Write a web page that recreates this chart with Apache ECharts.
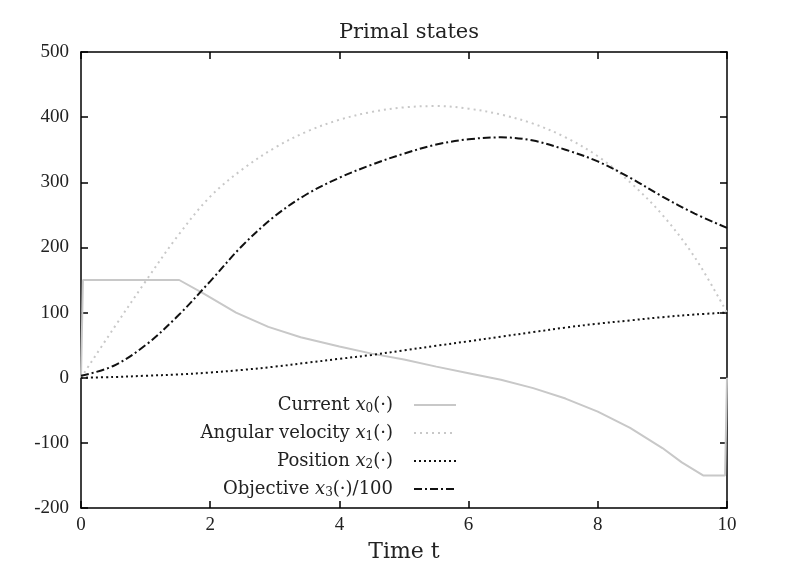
<!DOCTYPE html>
<html>
<head>
<meta charset="utf-8">
<script src="https://cdn.jsdelivr.net/npm/echarts@6/dist/echarts.min.js"></script>
<style>
  html, body { margin: 0; padding: 0; background: #fff; }
  #chart { width: 800px; height: 570px; }
</style>
</head>
<body>
<div id="chart"></div>
<script>
// current x0 (piecewise, kinks kept as points)
var tCurrent = [0, 0.03, 1.52, 1.9, 2.4, 2.9, 3.4, 4.0, 4.5, 5.0, 5.5, 6.0, 6.5, 7.0, 7.5, 8.0, 8.5, 9.0, 9.3, 9.63, 9.97, 10]
var current = [0, 150, 150, 129, 100, 78, 62, 48, 37, 28, 17, 7, -3, -16, -32, -52, -77, -108, -130, -150, -150, 0]

// shared time grid for the smooth states
var tGrid = [0, 0.5, 1, 1.5, 2, 2.5, 3, 3.5, 4, 4.5, 5, 5.5, 6, 6.5, 7, 7.5, 8, 8.5, 9, 9.5, 10]
var angularVelocity = [0, 75, 148, 218, 278, 320, 353, 378, 396, 408, 415, 417, 413, 404, 390, 369, 340, 300, 250, 185, 100]
var position = [0, 1, 3, 5, 8, 12, 17, 23, 29, 35, 42, 49, 56, 63, 70, 77, 83, 88, 93, 97, 100]
var objective = [3, 18, 50, 95, 148, 203, 248, 282, 307, 327, 344, 358, 366, 369, 364, 350, 332, 307, 278, 252, 230]

var yMin = -200, yMax = 500, yStep = 100

var names = {
  current: 'Current x0(·)',
  omega: 'Angular velocity x1(·)',
  pos: 'Position x2(·)',
  obj: 'Objective x3(·)/100'
}

function pairs(ts, vs) {
  return ts.map(function (t, i) { return [t, vs[i]] })
}

var serif = 'DejaVu Serif'
var numFont = 'Liberation Serif'
var chart = echarts.init(document.getElementById('chart'))

var axisLine = { show: true, onZero: false, lineStyle: { color: '#000', width: 1.5 } }
var axisTick = { show: true, inside: true, length: 7, lineStyle: { color: '#000', width: 1.5 } }

function legendLabel(name) {
  // "Current x0(·)" -> italic x with subscript digit
  var m = name.match(/^(.*)x(\d)(.*)$/)
  return '{n|' + m[1] + '}{i|x}{s|' + m[2] + '}{n|' + m[3] + '}'
}

chart.setOption({
  animation: false,
  title: {
    text: 'Primal states',
    left: 404,
    textAlign: 'center',
    top: 17,
    textStyle: { fontFamily: serif, fontSize: 21, fontWeight: 'normal', color: '#222' }
  },
  grid: { left: 81, right: 73, top: 52, bottom: 62 },
  legend: {
    orient: 'vertical',
    align: 'right',
    right: 338,
    top: 391,
    itemWidth: 42,
    itemHeight: 14,
    itemGap: 9,
    itemStyle: { opacity: 0 },
    data: [names.current, names.omega, names.pos, names.obj],
    formatter: legendLabel,
    textStyle: {
      fontFamily: serif,
      fontSize: 18,
      color: '#222',
      padding: [0, 16, 0, 0],
      rich: {
        n: { fontFamily: serif, fontSize: 18, color: '#222' },
        i: { fontFamily: serif, fontSize: 18, fontStyle: 'italic', color: '#222' },
        s: { fontFamily: serif, fontSize: 12, color: '#222', padding: [8, 0, 0, 0] }
      }
    }
  },
  xAxis: [
    {
      type: 'value', min: 0, max: 10, interval: 2, position: 'bottom',
      name: 'Time t', nameLocation: 'middle', nameGap: 33,
      nameTextStyle: { fontFamily: serif, fontSize: 22, color: '#222' },
      axisLabel: { fontFamily: numFont, fontSize: 19, color: '#222', margin: 8 },
      axisLine: axisLine, axisTick: axisTick, splitLine: { show: false }
    },
    {
      type: 'value', min: 0, max: 10, interval: 2, position: 'top',
      axisLabel: { show: false },
      axisLine: axisLine, axisTick: axisTick, splitLine: { show: false }
    }
  ],
  yAxis: [
    {
      type: 'value', min: yMin, max: yMax, interval: yStep, position: 'left',
      axisLabel: { fontFamily: numFont, fontSize: 19, color: '#222', margin: 12 },
      axisLine: axisLine, axisTick: axisTick, splitLine: { show: false }
    },
    {
      type: 'value', min: yMin, max: yMax, interval: yStep, position: 'right',
      axisLabel: { show: false },
      axisLine: axisLine, axisTick: axisTick, splitLine: { show: false }
    }
  ],
  series: [
    {
      name: names.current, type: 'line', symbol: 'none',
      data: pairs(tCurrent, current),
      lineStyle: { color: '#c8c8c8', width: 2 },
      itemStyle: { color: '#c8c8c8' }
    },
    {
      name: names.omega, type: 'line', symbol: 'none', smooth: 0.35,
      data: pairs(tGrid, angularVelocity),
      lineStyle: { color: '#c8c8c8', width: 2, type: [2, 4] },
      itemStyle: { color: '#c8c8c8' }
    },
    {
      name: names.pos, type: 'line', symbol: 'none', smooth: 0.35,
      data: pairs(tGrid, position),
      lineStyle: { color: '#111', width: 2, type: [2, 3] },
      itemStyle: { color: '#111' }
    },
    {
      name: names.obj, type: 'line', symbol: 'none', smooth: 0.35,
      data: pairs(tGrid, objective),
      lineStyle: { color: '#111', width: 2, type: [8, 3, 2, 3] },
      itemStyle: { color: '#111' }
    }
  ]
})
</script>
</body>
</html>
